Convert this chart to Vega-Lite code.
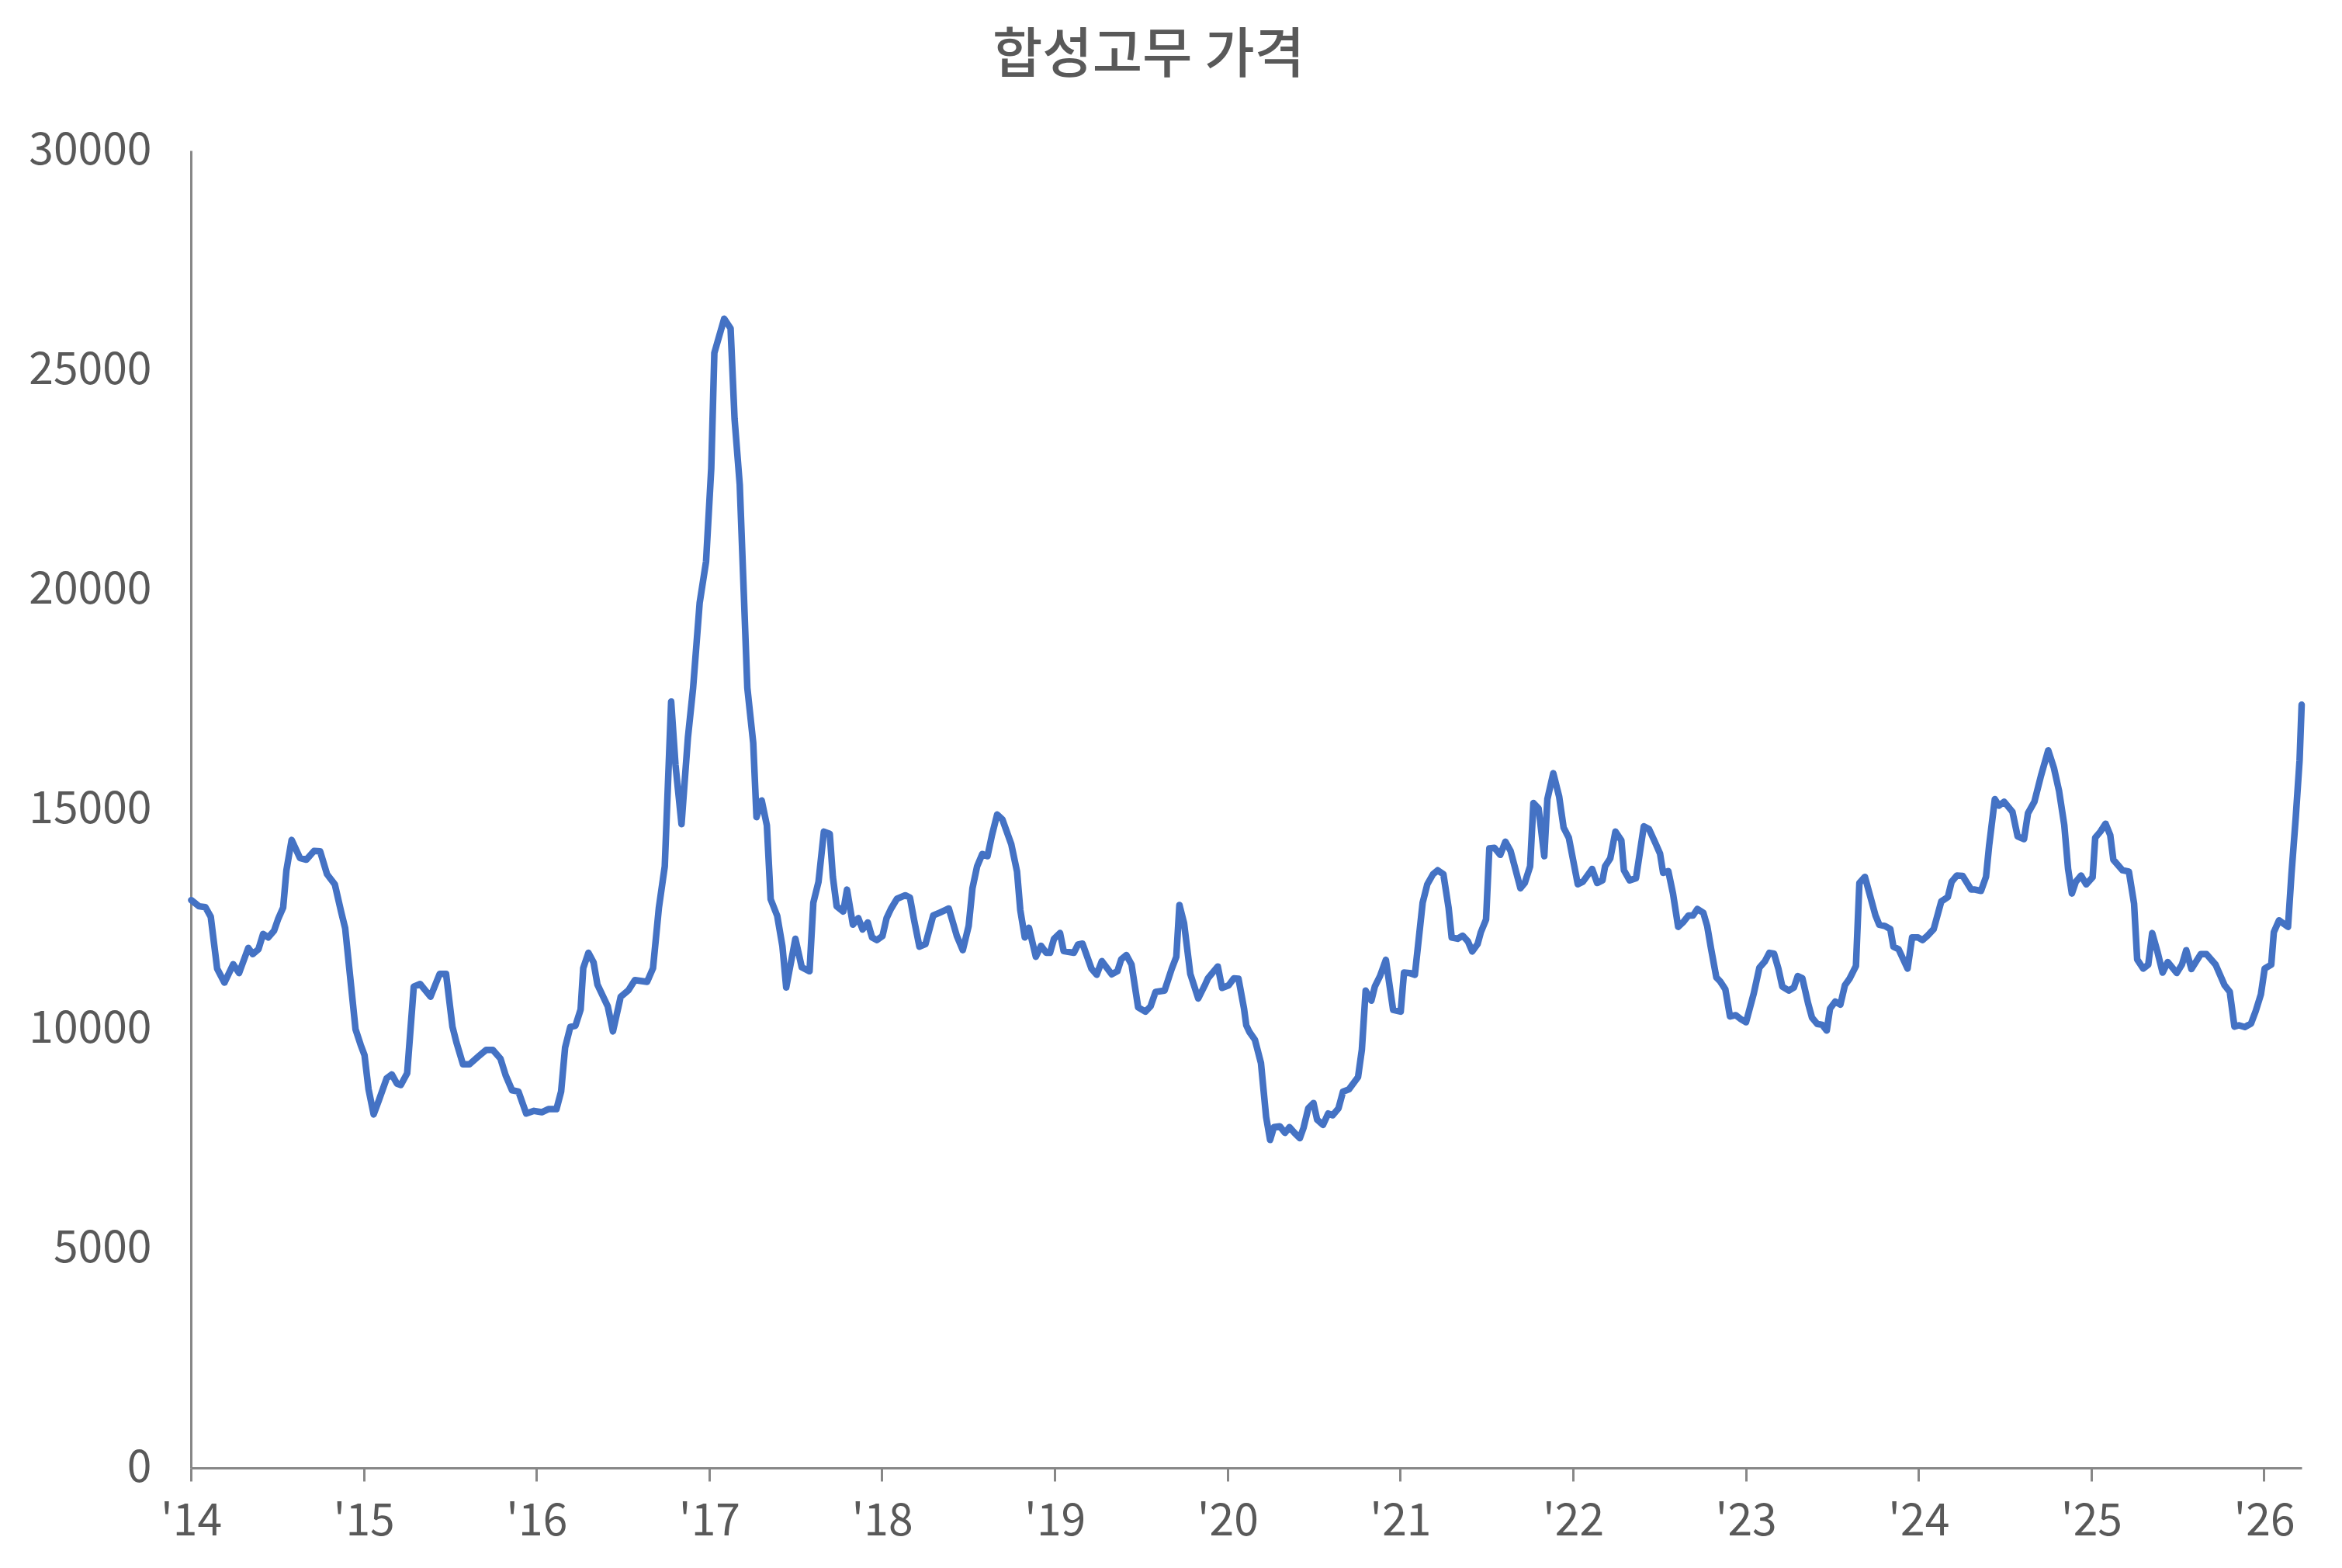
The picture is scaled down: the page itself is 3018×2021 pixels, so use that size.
{
  "$schema": "https://vega.github.io/schema/vega-lite/v6.json",
  "autosize": "none",
  "width": 2720,
  "height": 1698,
  "padding": {"left": 246, "top": 194, "right": 52, "bottom": 129},
  "background": "white",
  "title": {
    "text": "합성고무 가격",
    "font": "Noto Sans CJK KR",
    "fontSize": 70,
    "fontWeight": 500,
    "color": "#595959",
    "anchor": "middle",
    "dx": -126,
    "offset": 56
  },
  "config": {
    "view": {"stroke": null},
    "axis": {
      "labelFont": "Noto Sans CJK KR",
      "labelFontSize": 57,
      "labelColor": "#595959",
      "domainColor": "#878787",
      "domainWidth": 3,
      "tickColor": "#878787",
      "tickWidth": 3,
      "grid": false,
      "title": null
    }
  },
  "data": {
    "values": [
      {"t": 2014.002, "v": 12930}, {"t": 2014.047, "v": 12790}, {"t": 2014.084, "v": 12770}, {"t": 2014.115, "v": 12550},
      {"t": 2014.152, "v": 11370}, {"t": 2014.194, "v": 11050}, {"t": 2014.245, "v": 11470}, {"t": 2014.279, "v": 11270},
      {"t": 2014.332, "v": 11840}, {"t": 2014.358, "v": 11700}, {"t": 2014.391, "v": 11810}, {"t": 2014.418, "v": 12160},
      {"t": 2014.448, "v": 12080}, {"t": 2014.481, "v": 12230}, {"t": 2014.504, "v": 12490}, {"t": 2014.534, "v": 12760},
      {"t": 2014.553, "v": 13610}, {"t": 2014.583, "v": 14300}, {"t": 2014.631, "v": 13890}, {"t": 2014.668, "v": 13850},
      {"t": 2014.713, "v": 14050}, {"t": 2014.748, "v": 14040}, {"t": 2014.788, "v": 13520}, {"t": 2014.833, "v": 13290},
      {"t": 2014.871, "v": 12640}, {"t": 2014.893, "v": 12290}, {"t": 2014.953, "v": 9990}, {"t": 2014.983, "v": 9630},
      {"t": 2015.005, "v": 9400}, {"t": 2015.028, "v": 8630}, {"t": 2015.058, "v": 8050}, {"t": 2015.088, "v": 8370},
      {"t": 2015.133, "v": 8870}, {"t": 2015.163, "v": 8960}, {"t": 2015.193, "v": 8750}, {"t": 2015.215, "v": 8720},
      {"t": 2015.252, "v": 8990}, {"t": 2015.290, "v": 10960}, {"t": 2015.327, "v": 11020}, {"t": 2015.387, "v": 10730},
      {"t": 2015.440, "v": 11250}, {"t": 2015.477, "v": 11250}, {"t": 2015.514, "v": 10050}, {"t": 2015.537, "v": 9690},
      {"t": 2015.575, "v": 9190}, {"t": 2015.612, "v": 9190}, {"t": 2015.664, "v": 9370}, {"t": 2015.709, "v": 9520},
      {"t": 2015.747, "v": 9520}, {"t": 2015.792, "v": 9320}, {"t": 2015.822, "v": 8940}, {"t": 2015.859, "v": 8600},
      {"t": 2015.896, "v": 8570}, {"t": 2015.941, "v": 8070}, {"t": 2015.986, "v": 8130}, {"t": 2016.031, "v": 8100},
      {"t": 2016.069, "v": 8170}, {"t": 2016.116, "v": 8170}, {"t": 2016.143, "v": 8570}, {"t": 2016.166, "v": 9570},
      {"t": 2016.196, "v": 10040}, {"t": 2016.226, "v": 10070}, {"t": 2016.256, "v": 10440}, {"t": 2016.271, "v": 11380},
      {"t": 2016.301, "v": 11730}, {"t": 2016.331, "v": 11510}, {"t": 2016.353, "v": 11010}, {"t": 2016.413, "v": 10510},
      {"t": 2016.443, "v": 9940}, {"t": 2016.488, "v": 10730}, {"t": 2016.533, "v": 10880}, {"t": 2016.570, "v": 11110},
      {"t": 2016.641, "v": 11070}, {"t": 2016.675, "v": 11380}, {"t": 2016.709, "v": 12760}, {"t": 2016.743, "v": 13700},
      {"t": 2016.780, "v": 17450}, {"t": 2016.805, "v": 16010}, {"t": 2016.840, "v": 14660}, {"t": 2016.877, "v": 16630},
      {"t": 2016.907, "v": 17760}, {"t": 2016.945, "v": 19700}, {"t": 2016.982, "v": 20640}, {"t": 2017.012, "v": 22760},
      {"t": 2017.030, "v": 25390}, {"t": 2017.087, "v": 26170}, {"t": 2017.124, "v": 25950}, {"t": 2017.147, "v": 23890},
      {"t": 2017.177, "v": 22390}, {"t": 2017.221, "v": 17760}, {"t": 2017.255, "v": 16510}, {"t": 2017.274, "v": 14820},
      {"t": 2017.304, "v": 15200}, {"t": 2017.334, "v": 14630}, {"t": 2017.356, "v": 12950}, {"t": 2017.394, "v": 12570},
      {"t": 2017.424, "v": 11880}, {"t": 2017.446, "v": 10940}, {"t": 2017.499, "v": 12050}, {"t": 2017.536, "v": 11400},
      {"t": 2017.581, "v": 11310}, {"t": 2017.603, "v": 12870}, {"t": 2017.633, "v": 13350}, {"t": 2017.664, "v": 14490},
      {"t": 2017.698, "v": 14440}, {"t": 2017.716, "v": 13460}, {"t": 2017.738, "v": 12790}, {"t": 2017.776, "v": 12670},
      {"t": 2017.798, "v": 13170}, {"t": 2017.832, "v": 12370}, {"t": 2017.863, "v": 12520}, {"t": 2017.888, "v": 12260},
      {"t": 2017.918, "v": 12420}, {"t": 2017.943, "v": 12080}, {"t": 2017.970, "v": 12020}, {"t": 2018.003, "v": 12110},
      {"t": 2018.027, "v": 12520}, {"t": 2018.052, "v": 12730}, {"t": 2018.087, "v": 12960}, {"t": 2018.135, "v": 13040},
      {"t": 2018.162, "v": 12990}, {"t": 2018.187, "v": 12460}, {"t": 2018.217, "v": 11870}, {"t": 2018.252, "v": 11930},
      {"t": 2018.297, "v": 12580}, {"t": 2018.337, "v": 12650}, {"t": 2018.387, "v": 12740}, {"t": 2018.434, "v": 12110},
      {"t": 2018.468, "v": 11790}, {"t": 2018.502, "v": 12340}, {"t": 2018.524, "v": 13200}, {"t": 2018.551, "v": 13700},
      {"t": 2018.581, "v": 13980}, {"t": 2018.611, "v": 13930}, {"t": 2018.637, "v": 14410}, {"t": 2018.667, "v": 14880},
      {"t": 2018.697, "v": 14770}, {"t": 2018.749, "v": 14200}, {"t": 2018.782, "v": 13580}, {"t": 2018.801, "v": 12700},
      {"t": 2018.827, "v": 12080}, {"t": 2018.851, "v": 12300}, {"t": 2018.891, "v": 11640}, {"t": 2018.921, "v": 11890},
      {"t": 2018.951, "v": 11730}, {"t": 2018.973, "v": 11730}, {"t": 2018.996, "v": 12050}, {"t": 2019.031, "v": 12180},
      {"t": 2019.052, "v": 11770}, {"t": 2019.111, "v": 11730}, {"t": 2019.135, "v": 11920}, {"t": 2019.161, "v": 11940},
      {"t": 2019.213, "v": 11370}, {"t": 2019.243, "v": 11230}, {"t": 2019.273, "v": 11540}, {"t": 2019.330, "v": 11240},
      {"t": 2019.363, "v": 11310}, {"t": 2019.385, "v": 11580}, {"t": 2019.415, "v": 11680}, {"t": 2019.445, "v": 11460},
      {"t": 2019.483, "v": 10490}, {"t": 2019.525, "v": 10390}, {"t": 2019.555, "v": 10510}, {"t": 2019.584, "v": 10840},
      {"t": 2019.636, "v": 10870}, {"t": 2019.677, "v": 11360}, {"t": 2019.704, "v": 11640}, {"t": 2019.722, "v": 12820},
      {"t": 2019.749, "v": 12400}, {"t": 2019.785, "v": 11250}, {"t": 2019.831, "v": 10690}, {"t": 2019.869, "v": 10990},
      {"t": 2019.887, "v": 11150}, {"t": 2019.944, "v": 11420}, {"t": 2019.969, "v": 10930}, {"t": 2020.007, "v": 10990},
      {"t": 2020.037, "v": 11150}, {"t": 2020.064, "v": 11140}, {"t": 2020.096, "v": 10460}, {"t": 2020.109, "v": 10080},
      {"t": 2020.127, "v": 9930}, {"t": 2020.159, "v": 9750}, {"t": 2020.194, "v": 9220}, {"t": 2020.224, "v": 7990},
      {"t": 2020.247, "v": 7470}, {"t": 2020.269, "v": 7760}, {"t": 2020.303, "v": 7780}, {"t": 2020.333, "v": 7630},
      {"t": 2020.359, "v": 7760}, {"t": 2020.388, "v": 7630}, {"t": 2020.419, "v": 7510}, {"t": 2020.441, "v": 7750},
      {"t": 2020.468, "v": 8190}, {"t": 2020.498, "v": 8310}, {"t": 2020.519, "v": 7930}, {"t": 2020.553, "v": 7810},
      {"t": 2020.583, "v": 8070}, {"t": 2020.609, "v": 8030}, {"t": 2020.643, "v": 8190}, {"t": 2020.669, "v": 8570},
      {"t": 2020.703, "v": 8620}, {"t": 2020.756, "v": 8900}, {"t": 2020.778, "v": 9520}, {"t": 2020.800, "v": 10870},
      {"t": 2020.833, "v": 10640}, {"t": 2020.853, "v": 10960}, {"t": 2020.883, "v": 11200}, {"t": 2020.917, "v": 11570},
      {"t": 2020.959, "v": 10430}, {"t": 2021.003, "v": 10390}, {"t": 2021.022, "v": 11280}, {"t": 2021.055, "v": 11270},
      {"t": 2021.085, "v": 11230}, {"t": 2021.130, "v": 12870}, {"t": 2021.157, "v": 13290}, {"t": 2021.190, "v": 13520},
      {"t": 2021.217, "v": 13610}, {"t": 2021.250, "v": 13520}, {"t": 2021.280, "v": 12760}, {"t": 2021.298, "v": 12080},
      {"t": 2021.332, "v": 12050}, {"t": 2021.362, "v": 12120}, {"t": 2021.392, "v": 11990}, {"t": 2021.417, "v": 11760},
      {"t": 2021.448, "v": 11930}, {"t": 2021.467, "v": 12200}, {"t": 2021.497, "v": 12490}, {"t": 2021.516, "v": 14110},
      {"t": 2021.546, "v": 14120}, {"t": 2021.579, "v": 13960}, {"t": 2021.609, "v": 14260}, {"t": 2021.639, "v": 14050},
      {"t": 2021.696, "v": 13200}, {"t": 2021.721, "v": 13320}, {"t": 2021.752, "v": 13700}, {"t": 2021.771, "v": 15140},
      {"t": 2021.801, "v": 15020}, {"t": 2021.834, "v": 13930}, {"t": 2021.852, "v": 15230}, {"t": 2021.886, "v": 15820},
      {"t": 2021.920, "v": 15290}, {"t": 2021.946, "v": 14580}, {"t": 2021.976, "v": 14350}, {"t": 2022.028, "v": 13290},
      {"t": 2022.058, "v": 13350}, {"t": 2022.111, "v": 13640}, {"t": 2022.140, "v": 13320}, {"t": 2022.171, "v": 13380},
      {"t": 2022.186, "v": 13700}, {"t": 2022.216, "v": 13880}, {"t": 2022.246, "v": 14490}, {"t": 2022.280, "v": 14290},
      {"t": 2022.295, "v": 13610}, {"t": 2022.328, "v": 13380}, {"t": 2022.365, "v": 13430}, {"t": 2022.410, "v": 14610},
      {"t": 2022.440, "v": 14550}, {"t": 2022.477, "v": 14230}, {"t": 2022.504, "v": 13990}, {"t": 2022.522, "v": 13550},
      {"t": 2022.552, "v": 13590}, {"t": 2022.579, "v": 13080}, {"t": 2022.609, "v": 12320}, {"t": 2022.639, "v": 12430},
      {"t": 2022.669, "v": 12580}, {"t": 2022.695, "v": 12580}, {"t": 2022.720, "v": 12730}, {"t": 2022.755, "v": 12640},
      {"t": 2022.777, "v": 12340}, {"t": 2022.800, "v": 11810}, {"t": 2022.830, "v": 11170}, {"t": 2022.852, "v": 11080},
      {"t": 2022.882, "v": 10900}, {"t": 2022.909, "v": 10280}, {"t": 2022.942, "v": 10310}, {"t": 2022.972, "v": 10220},
      {"t": 2023.002, "v": 10150}, {"t": 2023.047, "v": 10810}, {"t": 2023.079, "v": 11390}, {"t": 2023.110, "v": 11530},
      {"t": 2023.137, "v": 11730}, {"t": 2023.164, "v": 11710}, {"t": 2023.189, "v": 11370}, {"t": 2023.212, "v": 10960},
      {"t": 2023.249, "v": 10870}, {"t": 2023.279, "v": 10940}, {"t": 2023.301, "v": 11200}, {"t": 2023.328, "v": 11150},
      {"t": 2023.361, "v": 10580}, {"t": 2023.384, "v": 10250}, {"t": 2023.414, "v": 10110}, {"t": 2023.443, "v": 10090},
      {"t": 2023.469, "v": 9960}, {"t": 2023.488, "v": 10460}, {"t": 2023.518, "v": 10620}, {"t": 2023.548, "v": 10550},
      {"t": 2023.574, "v": 10990}, {"t": 2023.601, "v": 11140}, {"t": 2023.638, "v": 11430}, {"t": 2023.658, "v": 13320},
      {"t": 2023.690, "v": 13460}, {"t": 2023.751, "v": 12580}, {"t": 2023.773, "v": 12370}, {"t": 2023.807, "v": 12340},
      {"t": 2023.837, "v": 12270}, {"t": 2023.855, "v": 11870}, {"t": 2023.885, "v": 11810}, {"t": 2023.937, "v": 11370},
      {"t": 2023.963, "v": 12080}, {"t": 2023.998, "v": 12080}, {"t": 2024.023, "v": 12020}, {"t": 2024.050, "v": 12110},
      {"t": 2024.088, "v": 12270}, {"t": 2024.132, "v": 12900}, {"t": 2024.170, "v": 13000}, {"t": 2024.192, "v": 13350},
      {"t": 2024.222, "v": 13490}, {"t": 2024.256, "v": 13480}, {"t": 2024.305, "v": 13170}, {"t": 2024.327, "v": 13170},
      {"t": 2024.362, "v": 13140}, {"t": 2024.391, "v": 13460}, {"t": 2024.409, "v": 14170}, {"t": 2024.442, "v": 15230},
      {"t": 2024.466, "v": 15080}, {"t": 2024.496, "v": 15170}, {"t": 2024.544, "v": 14940}, {"t": 2024.574, "v": 14380},
      {"t": 2024.611, "v": 14320}, {"t": 2024.634, "v": 14910}, {"t": 2024.671, "v": 15170}, {"t": 2024.709, "v": 15760},
      {"t": 2024.751, "v": 16340}, {"t": 2024.784, "v": 15940}, {"t": 2024.814, "v": 15410}, {"t": 2024.844, "v": 14640},
      {"t": 2024.866, "v": 13640}, {"t": 2024.888, "v": 13080}, {"t": 2024.911, "v": 13350}, {"t": 2024.941, "v": 13490},
      {"t": 2024.971, "v": 13290}, {"t": 2025.008, "v": 13450}, {"t": 2025.023, "v": 14350}, {"t": 2025.053, "v": 14490},
      {"t": 2025.083, "v": 14670}, {"t": 2025.110, "v": 14410}, {"t": 2025.128, "v": 13850}, {"t": 2025.181, "v": 13610},
      {"t": 2025.218, "v": 13580}, {"t": 2025.248, "v": 12850}, {"t": 2025.266, "v": 11580}, {"t": 2025.301, "v": 11370},
      {"t": 2025.330, "v": 11460}, {"t": 2025.353, "v": 12180}, {"t": 2025.383, "v": 11760}, {"t": 2025.413, "v": 11280},
      {"t": 2025.443, "v": 11520}, {"t": 2025.495, "v": 11270}, {"t": 2025.525, "v": 11460}, {"t": 2025.550, "v": 11790},
      {"t": 2025.580, "v": 11360}, {"t": 2025.634, "v": 11700}, {"t": 2025.667, "v": 11700}, {"t": 2025.720, "v": 11460},
      {"t": 2025.772, "v": 10990}, {"t": 2025.802, "v": 10840}, {"t": 2025.829, "v": 10050}, {"t": 2025.855, "v": 10080},
      {"t": 2025.889, "v": 10040}, {"t": 2025.925, "v": 10120}, {"t": 2025.952, "v": 10400}, {"t": 2025.982, "v": 10780},
      {"t": 2026.004, "v": 11370}, {"t": 2026.042, "v": 11460}, {"t": 2026.057, "v": 12200}, {"t": 2026.087, "v": 12470},
      {"t": 2026.139, "v": 12320}, {"t": 2026.159, "v": 13520}, {"t": 2026.184, "v": 14820}, {"t": 2026.206, "v": 16110},
      {"t": 2026.218, "v": 17380}
    ]
  },
  "mark": {"type": "line", "color": "#4472C4", "strokeWidth": 8.5, "strokeJoin": "round", "strokeCap": "round", "clip": false},
  "encoding": {
    "x": {
      "field": "t",
      "type": "quantitative",
      "scale": {"domain": [2014, 2026.218], "nice": false, "zero": false},
      "axis": {
        "values": [2014, 2015, 2016, 2017, 2018, 2019, 2020, 2021, 2022, 2023, 2024, 2025, 2026],
        "labelExpr": "\"'\" + substring(toString(datum.value), 2, 4)",
        "tickSize": 17,
        "labelPadding": 24,
        "labelFlush": false,
        "labelOverlap": false
      }
    },
    "y": {
      "field": "v",
      "type": "quantitative",
      "scale": {"domain": [0, 30000], "nice": false},
      "axis": {
        "values": [0, 5000, 10000, 15000, 20000, 25000, 30000],
        "format": "d",
        "ticks": false,
        "labelPadding": 51,
        "labelFlush": false,
        "labelOverlap": false
      }
    }
  }
}
